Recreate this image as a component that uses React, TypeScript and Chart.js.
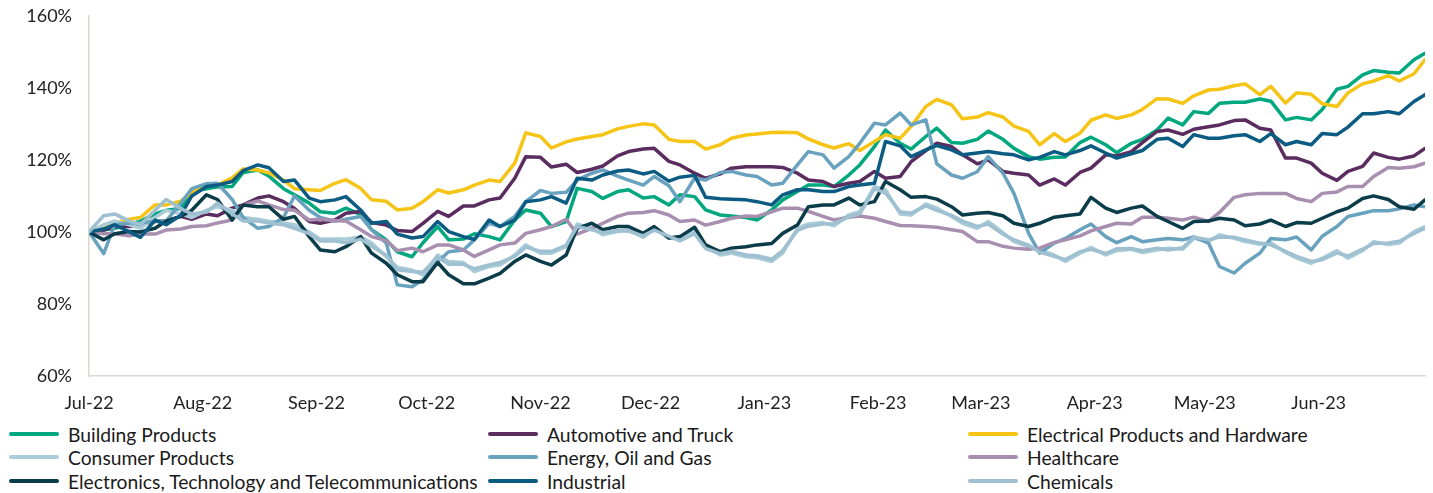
import React, { useEffect, useRef } from 'react';
import { Chart, registerables } from 'chart.js';

Chart.register(...registerables);

const sampleDates = [
  '2022-07-01', '2022-07-05', '2022-07-08', '2022-07-12', '2022-07-15', '2022-07-19', '2022-07-22', '2022-07-26', '2022-07-29',
  '2022-08-02', '2022-08-05', '2022-08-09', '2022-08-12', '2022-08-16', '2022-08-19', '2022-08-23', '2022-08-26', '2022-08-30',
  '2022-09-02', '2022-09-06', '2022-09-09', '2022-09-13', '2022-09-16', '2022-09-20', '2022-09-23', '2022-09-27', '2022-09-30',
  '2022-10-04', '2022-10-07', '2022-10-11', '2022-10-14', '2022-10-18', '2022-10-21', '2022-10-25', '2022-10-28',
  '2022-11-01', '2022-11-04', '2022-11-08', '2022-11-11', '2022-11-15', '2022-11-18', '2022-11-22', '2022-11-25', '2022-11-29',
  '2022-12-02', '2022-12-06', '2022-12-09', '2022-12-13', '2022-12-16', '2022-12-20', '2022-12-23', '2022-12-27', '2022-12-30',
  '2023-01-03', '2023-01-06', '2023-01-10', '2023-01-13', '2023-01-17', '2023-01-20', '2023-01-24', '2023-01-27', '2023-01-31',
  '2023-02-03', '2023-02-07', '2023-02-10', '2023-02-14', '2023-02-17', '2023-02-21', '2023-02-24', '2023-02-28',
  '2023-03-03', '2023-03-07', '2023-03-10', '2023-03-14', '2023-03-17', '2023-03-21', '2023-03-24', '2023-03-28', '2023-03-31',
  '2023-04-04', '2023-04-07', '2023-04-11', '2023-04-14', '2023-04-18', '2023-04-21', '2023-04-25', '2023-04-28',
  '2023-05-02', '2023-05-05', '2023-05-09', '2023-05-12', '2023-05-16', '2023-05-19', '2023-05-23', '2023-05-26', '2023-05-30',
  '2023-06-02', '2023-06-06', '2023-06-09', '2023-06-13', '2023-06-16', '2023-06-20', '2023-06-23', '2023-06-27', '2023-06-30',
];

const monthTickDates = [
  '2022-07-01', '2022-08-01', '2022-09-01', '2022-10-01', '2022-11-01', '2022-12-01',
  '2023-01-01', '2023-02-01', '2023-03-01', '2023-04-01', '2023-05-01', '2023-06-01',
];
const monthTickLabels = [
  'Jul-22', 'Aug-22', 'Sep-22', 'Oct-22', 'Nov-22', 'Dec-22',
  'Jan-23', 'Feb-23', 'Mar-23', 'Apr-23', 'May-23', 'Jun-23',
];

const yTickValues = [60, 80, 100, 120, 140, 160];

const buildingProducts = [
  100, 100.5, 101, 102, 103, 105, 106, 106.5, 111.2, 112, 112.5, 112.6, 116.5, 117.2, 115.5, 112, 110.3, 108,
  105.6, 105.2, 106.6, 104.8, 100.6, 97.8, 94.5, 93.1, 97, 101.5, 97.8, 98, 99.5, 98.7, 97.8, 103.3, 106.1, 105.2,
  101.5, 102.9, 112.1, 111.2, 109.3, 111.2, 111.7, 109.4, 109.8, 107.5, 110.3, 109.8, 106.1, 104.7, 104.4, 104,
  103.3, 106.1, 108.9, 111.2, 113, 113, 112.6, 115.8, 118.6, 123.7, 128.3, 124.6, 123, 126.5, 128.8, 124.8,
  124.6, 125.7, 128, 125.7, 123.2, 120.9, 120.2, 120.7, 120.8, 124.8, 126.3, 124.2, 122, 124.6, 125.7, 128.3,
  131.6, 129.7, 133.4, 132.9, 135.7, 136, 136, 136.9, 136.3, 131.1, 131.8, 131.1, 134, 139.6, 140.4, 143.6,
  144.8, 144.3, 144.1, 147.8, 149.6,
];
const automotiveAndTruck = [
  100, 100.5, 101.5, 101.5, 102, 102.9, 103, 104.3, 103.5, 105, 104.5, 106.6, 107.5, 109.4, 110, 108.4, 106.5, 102.9,
  102.4, 103.3, 105.2, 105.7, 102.6, 101.9, 100.4, 100.1, 102.4, 105.7, 104.3, 107.2, 107.2, 108.9, 109.4, 114.9,
  120.9, 120.7, 118, 118.8, 116.5, 117.4, 118.3, 121.1, 122.3, 123, 123.2, 119.6, 118.6, 116.3, 114.9, 116.1,
  117.7, 118.1, 118.1, 118.1, 117.9, 116.3, 114.4, 114, 112.6, 113.5, 114, 116.8, 114.9, 115.4, 119.5, 122.6,
  124.6, 123.7, 121.4, 118.9, 120, 116.8, 116.3, 115.8, 113, 114.7, 113, 116.5, 117.7, 121.4, 121.1, 122.3,
  124.8, 127.9, 128.3, 127.1, 128.5, 129.2, 129.7, 130.9, 131.1, 128.8, 128.3, 120.5, 120.5, 119.1, 116.3, 114.3,
  116.8, 118.2, 121.9, 120.7, 120.2, 121.1, 123.2,
];
const electricalProducts = [
  100, 101.5, 102.5, 103.5, 104, 107.5, 107.5, 108.5, 111, 113, 113, 115, 117.5, 117.2, 116.4, 114.4, 112, 111.7,
  111.5, 113.5, 114.5, 112.1, 108.9, 108.5, 106.1, 106.6, 108.4, 111.7, 110.8, 111.7, 113, 114.4, 114, 119.1,
  127.5, 126.5, 123.3, 125, 125.8, 126.5, 127, 128.6, 129.3, 130, 129.7, 125.7, 125.1, 125.1, 123, 124.2,
  126, 126.9, 127.2, 127.6, 127.7, 127.5, 125.8, 124.2, 123.3, 124.5, 122.6, 125.1, 127, 126, 129.3, 134.8,
  136.8, 135.3, 131.4, 131.9, 133.1, 131.9, 129.4, 127.9, 124.2, 127.3, 125.1, 127.4, 131, 132.5, 131.5, 132.5,
  134, 137, 136.9, 135.7, 137.8, 139.4, 139.6, 140.6, 141.1, 138.1, 140.4, 135.8, 138.6, 138.2, 135.6, 134.8,
  138.6, 141.1, 141.9, 143.4, 141.9, 143.9, 147.8,
];
const consumerProducts = [
  100, 102, 103, 102, 101, 104, 106, 105, 104, 106, 107, 106, 104, 103.5, 103, 102.5, 102, 100,
  98, 98, 98, 98.7, 96.9, 93.1, 90.2, 89.4, 88.1, 93.6, 91.8, 91.5, 89, 90.4, 90.8, 93.6, 96.4, 94.1,
  94.1, 95.9, 102.2, 101, 99.2, 100.1, 100.6, 98.5, 101, 98.3, 98, 100.1, 95.9, 93.6, 94.1, 93.1,
  92.8, 91.8, 94.1, 101, 102.2, 102.6, 101.7, 104.7, 105.6, 112.6, 111.7, 105, 104.7, 107.8, 106.6, 104.3,
  102.4, 101, 102.9, 99.8, 97.3, 95.9, 95, 93.6, 91.8, 94.1, 95.7, 93.6, 94.8, 95.2, 94.3, 95,
  95.5, 95.2, 98.2, 97.3, 99.2, 98.2, 97.3, 96.6, 97, 94.3, 92.7, 91.3, 92.7, 94.8, 92.7, 94.8,
  97.3, 96.5, 96.9, 100.1, 101.5,
];
const energyOilGas = [
  100, 94, 102, 102.5, 102.5, 103, 103, 108, 112, 113.4, 113.5, 109, 104, 101, 101.5, 104, 110, 106,
  104, 103, 103.5, 104.3, 100.6, 96.9, 85.3, 84.8, 86.7, 91.8, 94.5, 95, 97.8, 102.4, 101.5, 104.3,
  108.4, 111.5, 110.7, 111, 114.4, 116.3, 117.2, 115.5, 114.4, 113, 115.4, 112.8, 108.4, 114.9, 114.4, 116.5,
  116.8, 115.8, 115.4, 113, 113.5, 118.6, 122.3, 121.4, 117.7, 120.9, 124.6, 130.2, 129.7, 133, 129.7, 131.1,
  118.9, 115.8, 114.9, 116.7, 120.9, 116.3, 110.7, 99.6, 94.1, 96.9, 98.2, 100.6, 102.2, 98.7, 97, 98.7,
  97.3, 97.8, 98.2, 97.8, 98.6, 96.9, 90.4, 88.6, 91.3, 94.1, 98.2, 97.8, 98.6, 95, 98.8, 101.5,
  104.3, 105.2, 105.9, 105.9, 106.4, 107.5, 107,
];
const healthcare = [
  100, 99.5, 99.5, 98.9, 99.5, 99.4, 100.5, 100.8, 101.5, 101.7, 102.5, 103.3, 107.5, 108.6, 107.5, 106.2, 106, 103.3,
  103.5, 103.1, 103, 100.6, 98.7, 97.6, 94.8, 95.5, 94.5, 96.4, 96.4, 95, 93.2, 95, 96.4, 96.9, 99.6, 100.6,
  101.5, 103.5, 99.4, 101, 102.4, 104.3, 105.2, 105.4, 105.9, 104.7, 102.9, 103.3, 101.9, 102.9, 103.8, 104.4,
  104.3, 105.6, 106.6, 106.6, 105.7, 104.3, 103.3, 104.1, 104.4, 103.8, 102.9, 101.8, 101.7, 101.5, 101.3, 100.6,
  100.1, 97.3, 97.3, 96, 95.5, 95.2, 95.5, 97.1, 97.8, 98.9, 100.3, 101.5, 102.4, 102.2, 104.1, 104.1,
  103.8, 103.3, 104.1, 102.9, 105.4, 109.6, 110.3, 110.7, 110.7, 110.7, 109.3, 108.4, 110.7, 111.1, 112.6, 112.6,
  115.4, 117.9, 117.7, 118.1, 119.1,
];
const electronicsTech = [
  100, 97.8, 99.5, 100.1, 100, 101, 103, 104.3, 106, 110.3, 109, 103.3, 107.5, 107, 107, 103.5, 104.3, 98.7,
  95, 94.5, 95.9, 98.7, 94.1, 91.3, 88.1, 86.2, 86.2, 91.5, 88.1, 85.6, 85.6, 87.2, 88.5, 91.8, 93.6, 91.8,
  90.8, 93.6, 101, 102.4, 100.6, 101.5, 101.5, 99.6, 101.5, 98.3, 98.7, 101.3, 96.4, 94.5, 95.5, 95.9,
  96.4, 96.8, 99.6, 101.9, 107, 107.5, 107.5, 109.4, 107.5, 108.4, 114, 111.7, 109.6, 109.8, 109.1, 107,
  104.7, 105.2, 105.4, 104.5, 102.4, 101.5, 102.4, 104.1, 104.5, 105, 109.6, 106.6, 105.4, 106.6, 107.2, 104.3,
  102.9, 101, 102.9, 103, 103.8, 103.3, 101.7, 102.2, 103.3, 101.5, 102.6, 102.4, 103.8, 105.6, 106.6, 109.3,
  110, 109, 107, 106.3, 108.9,
];
const industrial = [
  100, 100.8, 102, 100, 98.5, 103.3, 102, 104.6, 110, 112.6, 113, 114, 117, 118.6, 117.8, 114, 114.4, 109.4,
  108.4, 108.9, 109.8, 106.1, 102.4, 102.9, 99.4, 98.3, 98.7, 102.9, 100.1, 98.7, 97.9, 103.3, 101.5, 103.3,
  108.4, 108.9, 109.8, 108, 114.9, 114.4, 115.8, 116.9, 117.2, 116.1, 116.8, 114.1, 115.2, 115.7, 109.6, 109.2,
  109.1, 108.9, 108.4, 107.5, 110.3, 111.7, 111.7, 111.2, 111.2, 112.6, 113, 113.5, 125.1, 123.9, 120.9, 122.8,
  124, 122.8, 121.4, 121.9, 122.3, 121.7, 121.4, 120, 120.7, 122.3, 121.4, 122.6, 123.9, 121.9, 120.5, 121.7,
  122.6, 125.7, 126, 123.7, 127, 126, 126, 126.7, 127, 125.1, 127.3, 124.2, 125.1, 124.2, 127.3, 127,
  129.1, 132.8, 132.8, 133.4, 132.8, 136.2, 138.1,
];
const chemicals = [
  100, 104.5, 105, 103, 102, 106, 109, 106.5, 105, 105.5, 108, 105, 103, 103, 102.5, 102, 101, 99.5,
  97.5, 97.5, 97, 98, 96, 93.5, 89.5, 89, 88.8, 93, 91, 91, 89.8, 90.8, 91.5, 93.2, 95.8, 94.6,
  94.6, 96.3, 101.5, 100.6, 99.8, 100.4, 100.2, 98.9, 100.5, 98.8, 97.5, 99.5, 95.4, 94, 94.6, 93.6,
  93.4, 92.4, 94.8, 100.4, 101.6, 102.2, 102.3, 104.2, 105, 112, 110.8, 105.6, 105.2, 107.2, 106, 104.6,
  103, 101.5, 102.2, 99.4, 97.8, 96.3, 94.4, 93.2, 92.3, 94.5, 95.2, 94, 95.3, 95.4, 94.8, 95.5,
  95, 95.6, 98.5, 97.8, 98.6, 98.5, 97.8, 96.9, 96.4, 94.6, 93.2, 91.8, 92.3, 94.2, 93.3, 95.2,
  96.8, 96.9, 97.4, 99.6, 101,
];

const seriesNames = [
  'Building Products',
  'Automotive and Truck',
  'Electrical Products and Hardware',
  'Consumer Products',
  'Energy, Oil and Gas',
  'Healthcare',
  'Electronics, Technology and Telecommunications',
  'Industrial',
  'Chemicals',
];
const seriesValues = [
  buildingProducts,
  automotiveAndTruck,
  electricalProducts,
  consumerProducts,
  energyOilGas,
  healthcare,
  electronicsTech,
  industrial,
  chemicals,
];
const seriesColors = [
  '#00A77F',
  '#5A2C5F',
  '#F5C415',
  '#A9CCD8',
  '#68A2BE',
  '#A88FB0',
  '#0A3C49',
  '#0B5B83',
  '#9EC0D0',
];

const FONT = 'Lato, "Open Sans", "DejaVu Sans", sans-serif';
const DAY_MS = 86400000;
const baseTime = Date.parse(sampleDates[0]);
const toDay = (d: string) => Math.round((Date.parse(d) - baseTime) / DAY_MS);
const sampleDays = sampleDates.map(toDay);
const monthTickDays = monthTickDates.map(toDay);

export default function App() {
  const canvasRef = useRef<HTMLCanvasElement | null>(null);

  useEffect(() => {
    const canvas = canvasRef.current;
    if (!canvas) return;
    const chart = new Chart(canvas, {
      type: 'line',
      data: {
        datasets: seriesNames.map((name, i) => ({
          label: name,
          data: sampleDays.map((d, j) => ({ x: d, y: seriesValues[i][j] })),
          borderColor: seriesColors[i],
          backgroundColor: seriesColors[i],
          borderWidth: 3.5,
          pointRadius: 0,
          pointHoverRadius: 0,
          tension: 0,
          fill: false,
          borderJoinStyle: 'round' as const,
          borderCapStyle: 'round' as const,
          order: seriesNames.length - i,
        })),
      },
      options: {
        animation: false,
        responsive: false,
        maintainAspectRatio: false,
        events: [],
        layout: { padding: { top: 4, right: 8, left: 0, bottom: 0 } },
        plugins: {
          legend: { display: false },
          tooltip: { enabled: false },
        },
        scales: {
          x: {
            type: 'linear',
            min: sampleDays[0],
            max: sampleDays[sampleDays.length - 1],
            afterBuildTicks: (scale: any) => {
              scale.ticks = monthTickDays.map((v) => ({ value: v }));
            },
            afterFit: (scale: any) => {
              scale.height = 44;
            },
            ticks: {
              autoSkip: false,
              maxRotation: 0,
              minRotation: 0,
              padding: 16,
              color: '#222222',
              font: { family: FONT, size: 18 },
              callback: (v: any) => {
                const idx = monthTickDays.indexOf(Number(v));
                return idx >= 0 ? monthTickLabels[idx] : '';
              },
            },
            grid: { display: false, drawTicks: false },
            border: { display: true, color: '#DAD7D0', width: 1.5 },
          },
          y: {
            type: 'linear',
            min: yTickValues[0],
            max: yTickValues[yTickValues.length - 1],
            afterBuildTicks: (scale: any) => {
              scale.ticks = yTickValues.map((v) => ({ value: v }));
            },
            afterFit: (scale: any) => {
              scale.width = 89;
            },
            ticks: {
              padding: 17,
              color: '#222222',
              font: { family: FONT, size: 18 },
              callback: (v: any) => `${v}%`,
            },
            grid: { display: false, drawTicks: false },
            border: { display: true, color: '#DAD7D0', width: 1.5 },
          },
        },
      },
    });
    return () => chart.destroy();
  }, []);

  const colLeft = [9, 488, 968];
  const rowCenter = [434, 457, 481];

  return (
    <div
      style={{
        position: 'absolute',
        left: 0,
        top: 0,
        width: 1433,
        height: 493,
        background: '#ffffff',
        overflow: 'hidden',
      }}
    >
      <canvas
        ref={canvasRef}
        width={1433}
        height={432}
        style={{ position: 'absolute', left: 0, top: -12, display: 'block', width: 1433, height: 432 }}
      />
      {seriesNames.map((name, i) => {
        const col = i % 3;
        const row = Math.floor(i / 3);
        return (
          <div
            key={name}
            style={{
              position: 'absolute',
              left: colLeft[col],
              top: rowCenter[row] - 12,
              height: 24,
              display: 'flex',
              alignItems: 'center',
              whiteSpace: 'nowrap',
              fontFamily: FONT,
              fontSize: 19.3,
              color: '#1a1a1a',
            }}
          >
            <span
              style={{
                display: 'inline-block',
                width: 50,
                height: 4,
                borderRadius: 2,
                background: seriesColors[i],
                marginRight: 9,
              }}
            />
            <span>{name}</span>
          </div>
        );
      })}
    </div>
  );
}
